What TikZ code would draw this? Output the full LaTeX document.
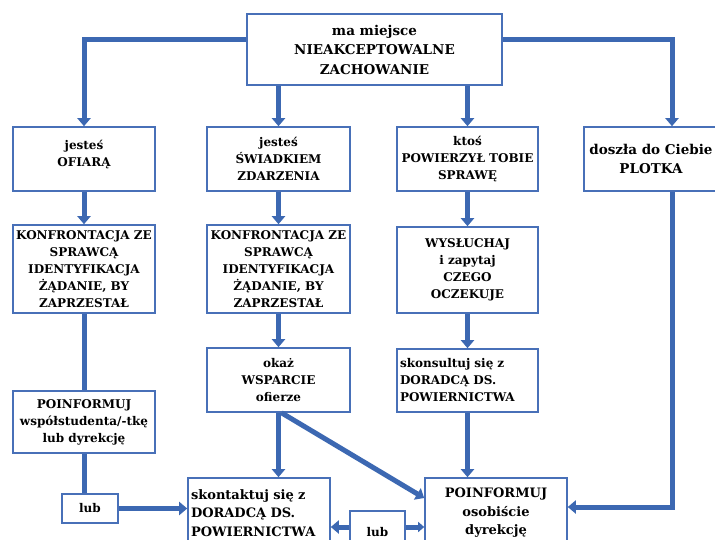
\documentclass[tikz,border=0pt]{standalone}
\usepackage{fontspec}
\setmainfont{DejaVu Serif}
\usetikzlibrary{arrows.meta}
\definecolor{conncol}{RGB}{60,104,178}
\definecolor{bordcol}{RGB}{72,112,184}
\tikzset{
  box/.style={draw=bordcol, line width=1.6pt, fill=white, inner sep=0pt, align=center,
    font=\bfseries\fontsize{12}{17}\selectfont, text=black},
  bigtext/.style={font=\bfseries\fontsize{13.5}{19.5}\selectfont},
  midtext/.style={font=\bfseries\fontsize{13}{18.5}\selectfont},
  conn/.style={draw=conncol, line width=5pt},
  arr/.style={conn, -{Triangle[width=13pt,length=8pt]}},
  smallarr/.style={conn, -{Triangle[width=10pt,length=6pt]}},
}
\begin{document}
\begin{tikzpicture}[x=1pt,y=-1pt]
\clip (0,0) rectangle (715,539);
\fill[white] (0,0) rectangle (715,539);
% boxes
\node[box, bigtext, minimum width=255pt, minimum height=71pt] (top) at (374.5,49.5) {ma miejsce\\NIEAKCEPTOWALNE\\ZACHOWANIE};
\node[box, minimum width=142pt, minimum height=64pt] (ofiara) at (84,159) {jesteś\\OFIARĄ\\[-6pt]\mbox{}};
\node[box, minimum width=143pt, minimum height=64pt] (swiadek) at (278.5,159) {jesteś\\ŚWIADKIEM\\ZDARZENIA};
\node[box, minimum width=141pt, minimum height=64pt] (ktos) at (467.5,159) {ktoś\\POWIERZYŁ TOBIE\\SPRAWĘ};
\node[box, bigtext, minimum width=134pt, minimum height=64pt] (plotka) at (651,159) {doszła do Ciebie\\PLOTKA};
\node[box, minimum width=142pt, minimum height=88pt] (konf1) at (84,269) {KONFRONTACJA ZE\\SPRAWCĄ\\IDENTYFIKACJA\\ŻĄDANIE, BY\\ZAPRZESTAŁ};
\node[box, minimum width=143pt, minimum height=88pt] (konf2) at (278.5,269) {KONFRONTACJA ZE\\SPRAWCĄ\\IDENTYFIKACJA\\ŻĄDANIE, BY\\ZAPRZESTAŁ};
\node[box, minimum width=141pt, minimum height=86pt] (wysl) at (467.5,270) {WYSŁUCHAJ\\i zapytaj\\CZEGO\\OCZEKUJE};
\node[box, minimum width=143pt, minimum height=64pt] (okaz) at (278.5,380) {okaż\\WSPARCIE\\ofierze};
\node[box, minimum width=141pt, minimum height=63pt, text width=135pt, align=left] (skons) at (467.5,380.5) {skonsultuj się z\\DORADCĄ DS.\\POWIERNICTWA};
\node[box, minimum width=142pt, minimum height=62pt] (poinf1) at (84,422) {POINFORMUJ\\współstudenta/-tkę\\lub dyrekcję};
\node[box, minimum width=56pt, minimum height=29pt] (lub1) at (90,508.5) {lub};
\node[box, midtext, minimum width=142pt, minimum height=70pt, text width=136pt, align=left] (skont) at (259,513) {skontaktuj się z\\DORADCĄ DS.\\POWIERNICTWA};
\node[box, minimum width=55pt, minimum height=42pt] (lub2) at (377.5,532) {lub};
\node[box, midtext, minimum width=142pt, minimum height=70pt] (poinf2) at (496,513) {POINFORMUJ\\osobiście\\dyrekcję};
% connectors
\coordinate (pc) at (672,0);
\coordinate (l2w) at ([yshift=5pt]lub2.west);
\coordinate (l2e) at ([yshift=5pt]lub2.east);
\draw[arr] ([yshift=10pt]top.west) -| (ofiara.north);
\draw[arr] (swiadek.north |- top.south) -- (swiadek.north);
\draw[arr] (ktos.north |- top.south) -- (ktos.north);
\draw[arr] ([yshift=10pt]top.east) -| (pc |- plotka.north);
\draw[arr] (ofiara.south) -- (konf1.north);
\draw[conn] (konf1.south) -- (poinf1.north);
\draw[conn] (poinf1.south) -- (poinf1.south |- lub1.north);
\draw[arr] (lub1.east) -- (skont.west |- lub1.east);
\draw[arr] (swiadek.south) -- (konf2.north);
\draw[arr] (konf2.south) -- (okaz.north);
\draw[arr] (okaz.south) -- (okaz.south |- skont.north);
\draw[arr] ([xshift=3pt]okaz.south) -- ([yshift=15pt]poinf2.west);
\draw[arr] (ktos.south) -- (wysl.north);
\draw[arr] (wysl.south) -- (skons.north);
\draw[arr] (skons.south) -- (skons.south |- poinf2.north);
\draw[arr] (pc |- plotka.south) |- ([yshift=6pt]poinf2.east);
\draw[arr] (l2w) -- (skont.east |- l2w);
\draw[smallarr] (l2e) -- (poinf2.west |- l2e);
\end{tikzpicture}
\end{document}
